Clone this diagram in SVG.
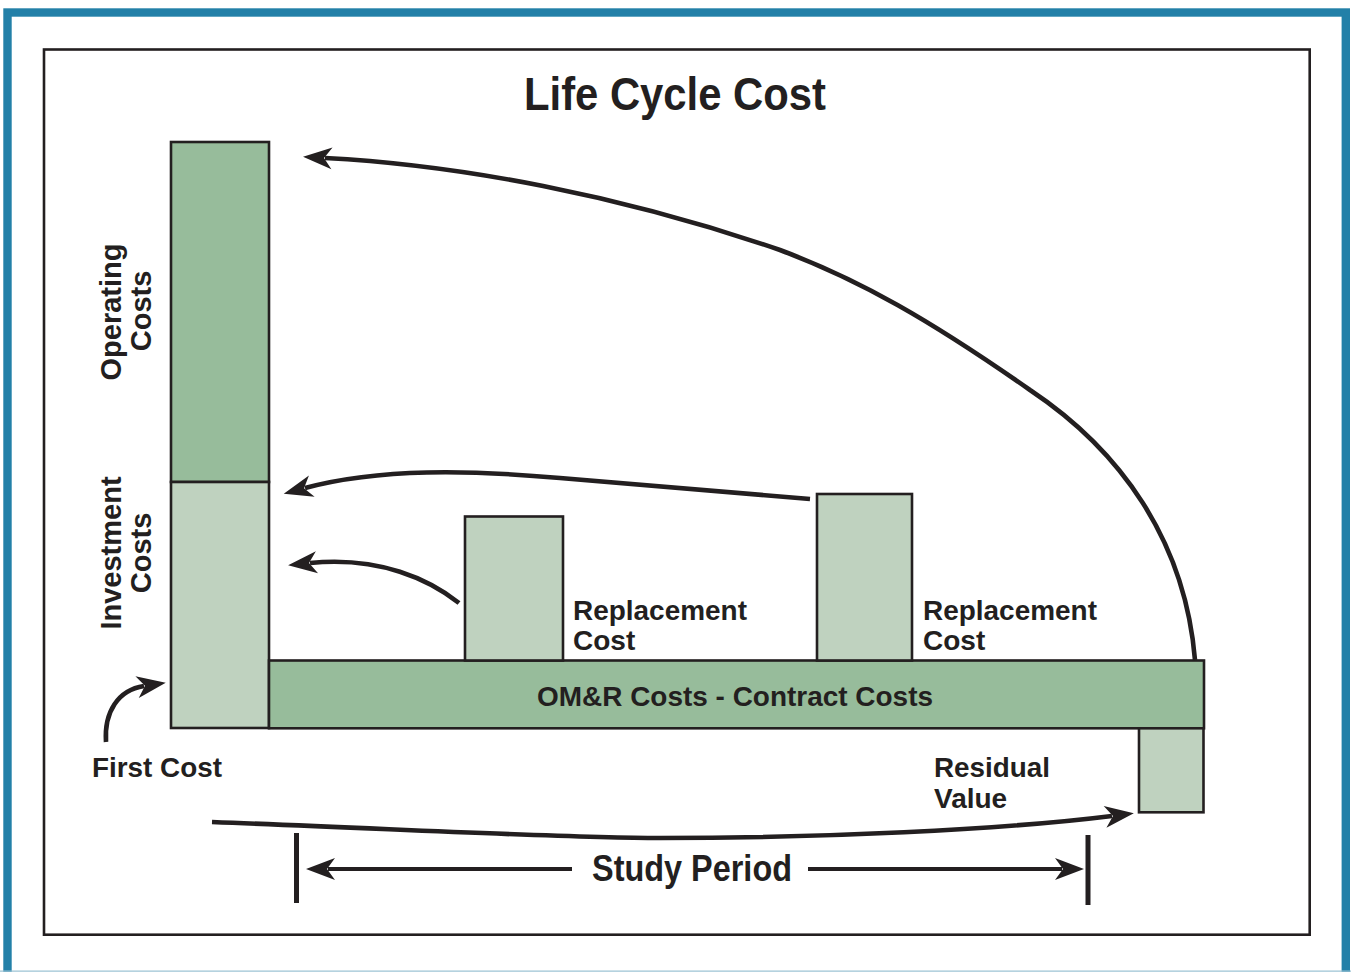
<svg xmlns="http://www.w3.org/2000/svg" width="1351" height="972" viewBox="0 0 1351 972">
  <style>
    .frame { fill: none; stroke: #2380a8; stroke-width: 8.4; }
    .panel { fill: #ffffff; stroke: #231f20; stroke-width: 2.6; }
    .dark { fill: #97bc9b; stroke: #231f20; stroke-width: 2.6; }
    .light { fill: #bfd2bf; stroke: #231f20; stroke-width: 2.6; }
    .lbl { font-family: "Liberation Sans", Arial, sans-serif; font-weight: bold; fill: #231f20; }
    .curve { fill: none; stroke: #231f20; stroke-width: 4.6; }
    .rule { fill: none; stroke: #231f20; stroke-width: 4; }
  </style>
  <defs>
    <marker id="head" viewBox="-10 -13 36 26" refX="0" refY="0" markerWidth="36" markerHeight="26" markerUnits="userSpaceOnUse" orient="auto">
      <path d="M22,0 L-7,-11 L1,0 L-7,11 Z" fill="#231f20"/>
    </marker>
  </defs>

  <rect x="0" y="0" width="1351" height="972" fill="#ffffff"/>
  <rect class="frame" x="7.5" y="12.5" width="1338.3" height="1000"/>
  <line x1="0" y1="971.2" x2="1351" y2="971.2" stroke="#9cc3d4" stroke-width="1.2"/>
  <rect class="panel" x="44" y="49.5" width="1265.7" height="885.2"/>

  <text class="lbl" x="524" y="110" font-size="46" textLength="302" lengthAdjust="spacingAndGlyphs">Life Cycle Cost</text>

  <g id="operating-costs">
    <rect class="dark" x="171" y="142" width="98" height="340"/>
    <text class="lbl" font-size="29" text-anchor="middle" transform="translate(121,312) rotate(-90)">Operating</text>
    <text class="lbl" font-size="29" text-anchor="middle" transform="translate(151,311) rotate(-90)">Costs</text>
  </g>

  <g id="investment-costs">
    <rect class="light" x="171" y="482" width="98" height="246"/>
    <text class="lbl" font-size="29" text-anchor="middle" transform="translate(121,553) rotate(-90)">Investment</text>
    <text class="lbl" font-size="29" text-anchor="middle" transform="translate(151,553) rotate(-90)">Costs</text>
  </g>

  <g id="omr-costs">
    <rect class="dark" x="269" y="660.5" width="935" height="67.8"/>
    <text class="lbl" x="537" y="706" font-size="28" textLength="396" lengthAdjust="spacingAndGlyphs">OM&amp;R Costs - Contract Costs</text>
  </g>

  <g id="replacement-1">
    <rect class="light" x="465" y="516.5" width="98" height="144"/>
    <text class="lbl" x="573" y="620" font-size="28" textLength="174" lengthAdjust="spacingAndGlyphs">Replacement</text>
    <text class="lbl" x="573" y="650" font-size="28">Cost</text>
  </g>

  <g id="replacement-2">
    <rect class="light" x="817" y="494" width="95" height="166.5"/>
    <text class="lbl" x="923" y="620" font-size="28" textLength="174" lengthAdjust="spacingAndGlyphs">Replacement</text>
    <text class="lbl" x="923" y="650" font-size="28">Cost</text>
  </g>

  <g id="residual-value">
    <rect class="light" x="1139" y="728.3" width="64.5" height="84"/>
    <text class="lbl" x="934" y="777" font-size="28" textLength="116" lengthAdjust="spacingAndGlyphs">Residual</text>
    <text class="lbl" x="934" y="808" font-size="28">Value</text>
  </g>

  <g id="first-cost">
    <text class="lbl" x="92" y="777" font-size="28" textLength="130" lengthAdjust="spacingAndGlyphs">First Cost</text>
  </g>

  <g id="study-period">
    <line x1="296.5" y1="833" x2="296.5" y2="903" stroke="#231f20" stroke-width="5"/>
    <line x1="1088" y1="835" x2="1088" y2="905" stroke="#231f20" stroke-width="5"/>
    <text class="lbl" x="592" y="881" font-size="36" textLength="200" lengthAdjust="spacingAndGlyphs">Study Period</text>
  </g>

  <g id="connectors">
    <path class="curve" marker-end="url(#head)" d="M1195,660 C1185,540 1120,450 1030,390 C930,320 860,280 780,250 C620,195 460,165 325,158"/>
    <path class="curve" marker-end="url(#head)" d="M810,499 L560,478 C470,470 380,468 305,488"/>
    <path class="curve" marker-end="url(#head)" d="M459,603 C430,580 380,556 310,563"/>
    <path class="curve" marker-end="url(#head)" d="M106,742 C104,712 118,690 144,686"/>
    <path class="curve" marker-end="url(#head)" d="M212,822 C400,829 560,838 660,838 C820,838 1000,830 1112,816"/>
    <path class="rule" marker-end="url(#head)" d="M572,869 L328,869"/>
    <path class="rule" marker-end="url(#head)" d="M808,869 L1062,869"/>
  </g>
</svg>
